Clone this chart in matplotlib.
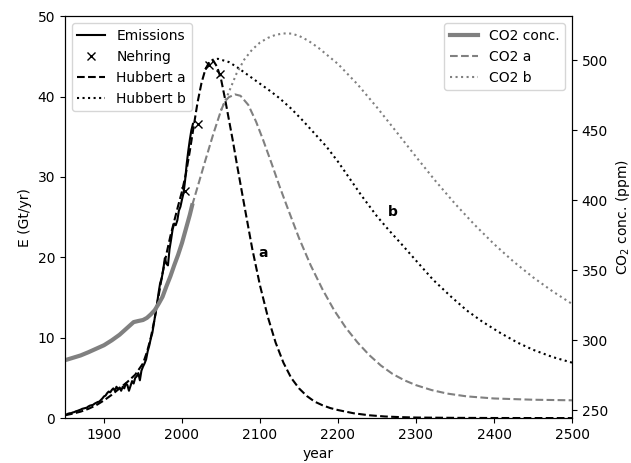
import matplotlib.pyplot as plt

# 歷史排放 (Gt/yr)
em_years = list(range(1850, 2015, 2))
em_vals = [0.40, 0.45, 0.55, 0.60, 0.62, 0.70, 0.75, 0.85, 0.90, 0.98,
           1.05, 1.15, 1.20, 1.25, 1.30, 1.45, 1.55, 1.60, 1.65, 1.80,
           1.90, 2.00, 2.05, 2.25, 2.45, 2.70, 2.80, 3.10, 3.30, 3.20,
           3.50, 3.70, 3.40, 3.90, 3.60, 3.80, 3.40, 3.90, 3.70, 4.30,
           4.10, 3.40, 4.00, 4.60, 4.30, 5.00, 5.20, 5.60, 4.70, 5.90,
           6.40, 6.80, 7.30, 8.30, 9.00, 9.90, 10.6, 11.8, 13.0, 14.2,
           15.6, 16.8, 17.4, 18.5, 19.9, 19.2, 19.0, 21.0, 22.2, 23.5,
           24.2, 24.0, 24.6, 25.8, 26.3, 27.2, 28.0, 29.6, 31.6, 33.2,
           34.6, 35.8, 36.6]

# Nehring 預測
neh_years = [2004, 2020, 2034, 2049]
neh_vals = [28.3, 36.6, 43.9, 42.8]

# Hubbert a
ha_years = [1850, 1860, 1870, 1880, 1890, 1900, 1910, 1920, 1930, 1940,
            1950, 1955, 1960, 1965, 1970, 1975, 1980, 1985, 1990, 1995,
            2000, 2005, 2010, 2015, 2020, 2025, 2030, 2035, 2040, 2045,
            2050, 2055, 2060, 2065, 2070, 2080, 2090, 2100, 2110, 2120,
            2130, 2140, 2150, 2160, 2170, 2180, 2190, 2200, 2220, 2240,
            2260, 2280, 2300, 2350, 2400, 2450, 2500]
ha_vals = [0.35, 0.55, 0.8, 1.15, 1.6, 2.2, 2.9, 3.7, 4.5, 5.4,
           6.8, 8.2, 10.0, 12.4, 15.2, 18.0, 20.4, 22.6, 24.5, 26.4,
           28.2, 30.4, 33.2, 36.3, 39.3, 41.7, 43.4, 44.3, 44.5, 43.7,
           42.2, 39.8, 37.2, 34.6, 31.8, 26.4, 21.1, 16.5, 12.6, 9.4,
           6.9, 5.0, 3.7, 2.75, 2.05, 1.6, 1.25, 1.0, 0.6, 0.35,
           0.2, 0.12, 0.07, 0.03, 0.01, 0.005, 0.0]

# Hubbert b
hb_years = [2030, 2035, 2040, 2046, 2060, 2070, 2080, 2090, 2100, 2113,
            2125, 2140, 2155, 2170, 2185, 2200, 2215, 2230, 2250, 2265,
            2280, 2300, 2322, 2345, 2365, 2385, 2408, 2430, 2450, 2475, 2500]
hb_vals = [43.4, 44.3, 44.6, 44.7, 44.3, 43.7, 43.0, 42.3, 41.6, 40.7,
           39.8, 38.5, 37.0, 35.4, 33.8, 31.9, 29.8, 27.7, 25.1, 23.4,
           21.8, 19.6, 17.2, 15.1, 13.4, 12.0, 10.6, 9.4, 8.5, 7.6, 6.9]

# CO2 濃度 (ppm)
co2_years = [1850, 1860, 1870, 1880, 1890, 1900, 1910, 1920, 1926, 1932,
             1938, 1944, 1950, 1955, 1960, 1965, 1970, 1975, 1980, 1985,
             1990, 1995, 2000, 2005, 2010, 2013]
co2_vals = [285.8, 287.5, 289.2, 291.5, 294.0, 296.5, 300.0, 304.0, 307.0, 310.0,
            313.0, 313.8, 314.5, 316.0, 318.5, 321.5, 326.0, 331.0, 338.5, 345.5,
            353.5, 361.0, 369.5, 379.5, 389.5, 396.3]

ca_years = [2013, 2020, 2030, 2040, 2050, 2055, 2060, 2068, 2075, 2085,
            2095, 2104, 2115, 2125, 2135, 2150, 2165, 2180, 2195, 2210,
            2225, 2240, 2255, 2270, 2285, 2300, 2320, 2340, 2365, 2400,
            2450, 2500]
ca_vals = [396.3, 409.5, 428.5, 447.0, 464.0, 470.5, 473.5, 475.5, 474.5, 468.0,
           456.0, 443.0, 426.0, 410.0, 395.0, 373.0, 353.5, 336.5, 321.5, 309.0,
           298.5, 289.5, 282.0, 276.0, 271.5, 268.0, 264.5, 262.0, 260.0, 258.5,
           257.6, 257.2]

cb_years = [2050, 2055, 2060, 2070, 2080, 2090, 2100, 2110, 2120, 2130,
            2140, 2150, 2162, 2175, 2200, 2225, 2250, 2275, 2300, 2325,
            2350, 2375, 2400, 2425, 2450, 2475, 2500]
cb_vals = [464.0, 470.5, 477.0, 490.5, 500.5, 507.5, 512.5, 515.8, 518.0, 519.0,
           518.9, 517.3, 513.8, 508.7, 497.2, 482.7, 466.2, 448.7, 431.0, 413.7,
           397.5, 382.5, 368.7, 356.2, 345.0, 335.0, 326.0]

fig, ax = plt.subplots(figsize=(6.31, 4.63), dpi=100)
fig.subplots_adjust(left=0.103, right=0.9065, bottom=0.097, top=0.965)

ax.plot(em_years, em_vals, 'k-', label='Emissions')
ax.plot(neh_years, neh_vals, 'kx', label='Nehring')
ax.plot(ha_years, ha_vals, 'k--', label='Hubbert a')
ax.plot(hb_years, hb_vals, 'k:', label='Hubbert b')
ax.set_xlim(1850, 2500)
ax.set_ylim(0, 50)
ax.set_xlabel('year')
ax.set_ylabel('E (Gt/yr)')
ax.text(2104, 20.5, 'a', fontweight='bold', ha='center', va='center')
ax.text(2270, 25.6, 'b', fontweight='bold', ha='center', va='center')
ax.legend(loc='upper left')

ax2 = ax.twinx()
ax2.plot(co2_years, co2_vals, color='gray', lw=3, label='CO2 conc.')
ax2.plot(ca_years, ca_vals, '--', color='gray', label='CO2 a')
ax2.plot(cb_years, cb_vals, ':', color='gray', label='CO2 b')
ax2.set_ylim(244.5, 531.3)
ax2.set_ylabel('CO$_2$ conc. (ppm)')
ax2.legend(loc='upper right')

plt.savefig('out.png', dpi=100)
